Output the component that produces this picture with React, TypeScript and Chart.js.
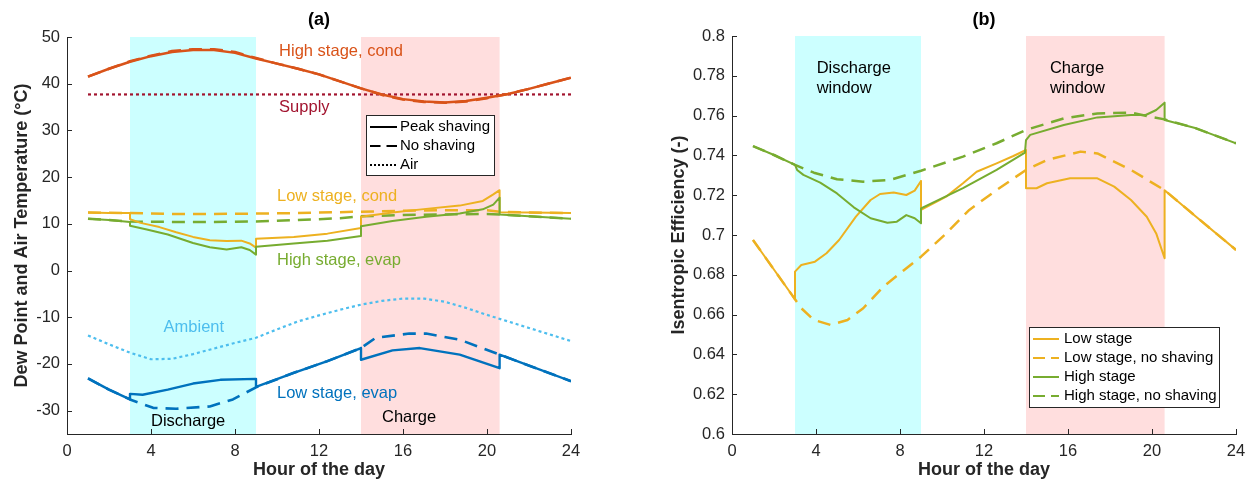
import React, { useEffect, useRef } from "react";
import { Chart, registerables } from "chart.js";

Chart.register(...registerables);

const FONT = '"Liberation Sans", Arimo, Arial, Helvetica, sans-serif';
const AXIS = "#262626";
const BLUE = "#0072BD";
const ORANGE = "#D95319";
const YELLOW = "#EDB120";
const GREEN = "#77AC30";
const LIGHTBLUE = "#4DBEEE";
const DARKRED = "#A2142F";
const CYAN_FILL = "rgb(204,255,255)";
const PINK_FILL = "rgb(255,222,222)";
const DASH = [13, 8];
const DOT = [3, 3];

// ---------- shared ----------
const xTicks = [0, 4, 8, 12, 16, 20, 24];
const dischargeWindow = [3, 9];
const chargeWindow = [14, 20.6];

// ---------- panel (a) ----------
const leftYTicks = [-30, -20, -10, 0, 10, 20, 30, 40, 50];
const hoursA = [1, 2, 3, 4, 5, 6, 7, 8, 9, 10, 11, 12, 13, 14, 15, 16, 17, 18, 19, 20, 21, 22, 23, 24];
const highCondPeak = [41.5, 43.2, 44.7, 45.9, 46.8, 47.2, 47.2, 46.6, 45.4, 44.3, 43.2, 42.0, 40.5, 39.0, 37.7, 36.7, 36.2, 36.0, 36.3, 37.0, 37.8, 38.9, 40.1, 41.3];
const highCondNoShave = [41.5, 43.2, 44.8, 46.0, 47.0, 47.4, 47.4, 46.8, 45.5, 44.3, 43.2, 42.0, 40.5, 39.0, 37.6, 36.6, 36.1, 35.9, 36.2, 36.9, 37.8, 38.9, 40.1, 41.3];
const supplyHours = [1, 24];
const supplyTemp = [37.7, 37.7];
const ambientTemp = [-13.9, -15.8, -17.6, -19.0, -18.9, -17.9, -16.7, -15.5, -14.4, -12.6, -10.9, -9.6, -8.4, -7.3, -6.5, -6.0, -6.0, -6.7, -8.0, -9.5, -10.9, -12.3, -13.7, -15.1];

const lowCondPeakHours = [1, 2, 3, 3, 3.5, 4.4, 5.2, 6.0, 6.8, 7.6, 8.3, 8.7, 9, 9, 10.8, 12.4, 14, 14, 15.5, 17.1, 18.7, 19.8, 20.3, 20.6, 20.6, 22, 24];
const lowCondPeak = [12.4, 12.3, 12.3, 11.0, 10.2, 9.3, 8.2, 7.2, 6.5, 6.3, 6.4, 5.8, 4.9, 6.8, 7.2, 7.9, 9.1, 11.5, 12.4, 13.2, 13.9, 14.9, 16.3, 17.2, 12.5, 12.4, 12.3];
const lowCondNoShaveHours = [1, 3, 5, 7, 9, 11, 13, 14, 16, 18, 20, 20.6, 22, 24];
const lowCondNoShave = [12.4, 12.3, 12.1, 12.1, 12.2, 12.3, 12.5, 12.6, 12.8, 12.9, 12.9, 12.6, 12.4, 12.3];

const highEvapPeakHours = [1, 2, 3, 3, 3.8, 4.8, 6.0, 6.8, 7.6, 8.3, 8.7, 9, 9, 10.8, 12.4, 14, 14, 15.5, 17.1, 18.7, 19.8, 20.3, 20.6, 20.6, 22, 24];
const highEvapPeak = [11.1, 10.8, 10.4, 9.6, 8.8, 7.7, 5.9, 5.0, 4.5, 5.0, 4.4, 3.4, 5.1, 5.8, 6.4, 7.4, 9.5, 10.6, 11.5, 12.2, 13.1, 14.1, 15.6, 12.0, 11.6, 11.1];
const highEvapNoShaveHours = [1, 3, 5, 7, 9, 11, 13, 14, 16, 18, 20, 20.6, 22, 24];
const highEvapNoShave = [11.1, 10.5, 10.4, 10.4, 10.5, 10.8, 11.2, 11.6, 11.9, 12.0, 12.1, 12.0, 11.6, 11.1];

const lowEvapPeakHours = [1, 2, 3, 3, 3.6, 4.8, 6.0, 7.3, 9, 9, 10.8, 12.4, 14, 14, 15.5, 16.8, 18.7, 20.6, 20.6, 24];
const lowEvapPeak = [-23.1, -25.5, -27.6, -26.4, -26.6, -25.5, -24.2, -23.4, -23.2, -24.9, -21.9, -19.4, -16.6, -19.1, -17.1, -16.6, -18.0, -20.9, -18.0, -23.7];
const lowEvapNoShaveHours = [1, 2, 3, 4.1, 5.2, 6.8, 7.9, 9, 10.8, 12.4, 14, 14.7, 16.3, 17.1, 18.7, 20.6, 24];
const lowEvapNoShave = [-23.1, -25.5, -27.6, -29.4, -29.6, -29.1, -27.6, -25.0, -21.9, -19.4, -16.6, -14.4, -13.5, -13.5, -14.8, -18.0, -23.7];

// ---------- panel (b) ----------
const rightYTicks = [0.6, 0.62, 0.64, 0.66, 0.68, 0.7, 0.72, 0.74, 0.76, 0.78, 0.8];
const lowStageHours = [1, 3, 3, 3.3, 3.95, 4.5, 5.1, 5.9, 6.6, 7.05, 7.7, 8.3, 8.7, 9, 9, 10.2, 11.0, 11.65, 12.6, 13.4, 14, 14, 14.5, 15.0, 16.1, 17.4, 18.2, 19.0, 19.75, 20.2, 20.6, 20.6, 22.1, 24];
const lowStageEff = [0.6975, 0.6677, 0.6816, 0.6849, 0.6866, 0.6908, 0.6975, 0.7092, 0.7176, 0.7206, 0.7214, 0.7201, 0.7223, 0.7271, 0.7126, 0.7193, 0.726, 0.7318, 0.736, 0.7397, 0.7427, 0.7235, 0.7235, 0.726, 0.7285, 0.7285, 0.7243, 0.7176, 0.7092, 0.7008, 0.6883, 0.7225, 0.7092, 0.6925];
const lowNoShaveHours = [1, 3, 3.3, 3.9, 4.7, 5.5, 6.25, 7.2, 8.2, 9, 10.2, 11.3, 12.6, 14, 15, 16.6, 17.4, 19.0, 20.6, 22.1, 24];
const lowNoShaveEff = [0.6975, 0.6677, 0.6632, 0.6573, 0.6548, 0.6573, 0.6632, 0.674, 0.6824, 0.6891, 0.7008, 0.7126, 0.7226, 0.7327, 0.7377, 0.7419, 0.741, 0.7327, 0.7225, 0.7092, 0.6925];
const highStageHours = [1, 2, 3, 3.1, 3.4, 4.2, 5.0, 5.8, 6.6, 7.4, 7.85, 8.3, 8.7, 9, 9, 11, 12.6, 13.95, 14, 14.2, 15.8, 17.4, 19.0, 19.7, 20.2, 20.6, 20.6, 22.1, 24];
const highStageEff = [0.7447, 0.7402, 0.7352, 0.7327, 0.7302, 0.7263, 0.7209, 0.7139, 0.7084, 0.7062, 0.7067, 0.71, 0.7084, 0.7059, 0.7134, 0.7236, 0.7327, 0.7414, 0.7477, 0.7503, 0.7553, 0.7591, 0.7603, 0.7603, 0.7628, 0.7665, 0.7578, 0.7536, 0.7461];
const highNoShaveHours = [1, 2, 3, 3.9, 5.0, 6.25, 7.5, 9, 11, 12.6, 14, 15.8, 17.4, 19, 19.9, 20.6, 22.1, 24];
const highNoShaveEff = [0.7447, 0.7402, 0.7352, 0.7313, 0.728, 0.7268, 0.7276, 0.7323, 0.7394, 0.7461, 0.7528, 0.7586, 0.7611, 0.7615, 0.7595, 0.7581, 0.7536, 0.7461];

// ---------- helpers ----------
function series(xs: number[], ys: number[], color: string, dash: number[] = [], width = 2) {
  return {
    data: xs.map((x, i) => ({ x, y: ys[i] })),
    borderColor: color,
    backgroundColor: color,
    borderWidth: width,
    borderDash: dash,
    borderCapStyle: "butt",
    borderJoinStyle: "round",
    pointRadius: 0,
    tension: 0,
    fill: false,
  } as any;
}

function stack(list: any[]) {
  // later entries drawn on top
  return list.map((d, i) => ({ ...d, order: list.length - i }));
}

type Note = { text: string[]; x: number; y: number; color: string; lineGap?: number };
type LegendRow = { label: string; color: string; dash: number[] };
type Decor = {
  title: string;
  notes: Note[];
  legend: { x: number; y: number; w: number; h: number; rowY: number[]; lineX0: number; lineX1: number; textX: number; rows: LegendRow[] };
};

function decorPlugin(cfg: Decor) {
  return {
    id: "decor",
    beforeDraw(chart: any) {
      const { ctx, chartArea: a, scales } = chart;
      const x = scales.x;
      ctx.save();
      const wins: [number[], string][] = [
        [dischargeWindow, CYAN_FILL],
        [chargeWindow, PINK_FILL],
      ];
      for (const [r, col] of wins) {
        const x0 = x.getPixelForValue(r[0]);
        const x1 = x.getPixelForValue(r[1]);
        ctx.fillStyle = col;
        ctx.fillRect(x0, a.top, x1 - x0, a.bottom - a.top);
      }
      ctx.restore();
    },
    afterDraw(chart: any) {
      const { ctx, chartArea: a, scales } = chart;
      const x = scales.x;
      const y = scales.y;
      ctx.save();
      // inward ticks
      ctx.strokeStyle = AXIS;
      ctx.lineWidth = 1;
      ctx.setLineDash([]);
      ctx.beginPath();
      for (const t of x.ticks) {
        const px = Math.round(x.getPixelForValue(t.value)) + 0.5;
        ctx.moveTo(px, a.bottom);
        ctx.lineTo(px, a.bottom - 5);
      }
      for (const t of y.ticks) {
        const py = Math.round(y.getPixelForValue(t.value)) + 0.5;
        ctx.moveTo(a.left, py);
        ctx.lineTo(a.left + 5, py);
      }
      ctx.stroke();

      // annotations
      ctx.font = `16.5px ${FONT}`;
      ctx.textAlign = "left";
      ctx.textBaseline = "middle";
      for (const n of cfg.notes) {
        ctx.fillStyle = n.color;
        const px = x.getPixelForValue(n.x);
        const py = y.getPixelForValue(n.y);
        n.text.forEach((line, i) => ctx.fillText(line, px, py + i * (n.lineGap || 20)));
      }

      // legend
      const L = cfg.legend;
      ctx.fillStyle = "#ffffff";
      ctx.fillRect(L.x, L.y, L.w, L.h);
      ctx.strokeStyle = AXIS;
      ctx.lineWidth = 1;
      ctx.strokeRect(L.x + 0.5, L.y + 0.5, L.w, L.h);
      ctx.font = `15px ${FONT}`;
      L.rows.forEach((r, i) => {
        const ry = L.rowY[i];
        ctx.beginPath();
        ctx.setLineDash(r.dash);
        ctx.strokeStyle = r.color;
        ctx.lineWidth = 2;
        ctx.moveTo(L.lineX0, ry);
        ctx.lineTo(L.lineX1, ry);
        ctx.stroke();
        ctx.setLineDash([]);
        ctx.fillStyle = "#000000";
        ctx.fillText(r.label, L.textX, ry);
      });

      // title
      ctx.font = `bold 18px ${FONT}`;
      ctx.textAlign = "center";
      ctx.fillStyle = "#000000";
      ctx.fillText(cfg.title, (a.left + a.right) / 2, 20);
      ctx.restore();
    },
  };
}

function makeOptions(p: {
  padRight: number;
  padTop: number;
  yWidth: number;
  yMin: number;
  yMax: number;
  yTicks: number[];
  yTitle: string;
  yTitlePad: number;
  yFmt: (v: number) => string;
}) {
  return {
    animation: false,
    responsive: false,
    devicePixelRatio: 1,
    events: [],
    layout: { padding: { left: 0, right: p.padRight, top: p.padTop, bottom: 0 } },
    plugins: { legend: { display: false }, tooltip: { enabled: false }, title: { display: false } },
    scales: {
      x: {
        type: "linear",
        min: 0,
        max: 24,
        afterBuildTicks: (s: any) => {
          s.ticks = xTicks.map((v) => ({ value: v }));
        },
        afterFit: (s: any) => {
          s.height = 52;
        },
        grid: { display: false, drawTicks: false },
        border: { display: true, color: AXIS, width: 1 },
        ticks: {
          color: AXIS,
          font: { family: FONT, size: 16.5 },
          padding: 8,
          maxRotation: 0,
          autoSkip: false,
          callback: (v: any) => String(v),
        },
        title: {
          display: true,
          text: "Hour of the day",
          color: AXIS,
          font: { family: FONT, size: 18, weight: "bold" },
          padding: { top: 0, bottom: 5 },
        },
      },
      y: {
        type: "linear",
        min: p.yMin,
        max: p.yMax,
        afterBuildTicks: (s: any) => {
          s.ticks = p.yTicks.map((v) => ({ value: v }));
        },
        afterFit: (s: any) => {
          s.width = p.yWidth;
        },
        grid: { display: false, drawTicks: false },
        border: { display: true, color: AXIS, width: 1 },
        ticks: {
          color: AXIS,
          font: { family: FONT, size: 16.5 },
          padding: 7,
          autoSkip: false,
          callback: (v: any) => p.yFmt(Number(v)),
        },
        title: {
          display: true,
          text: p.yTitle,
          color: AXIS,
          font: { family: FONT, size: 18, weight: "bold" },
          padding: { top: p.yTitlePad, bottom: 0 },
        },
      },
    },
  } as any;
}

function leftConfig(): any {
  const datasets = stack([
    series(supplyHours, supplyTemp, DARKRED, DOT, 2.2),
    series(hoursA, ambientTemp, LIGHTBLUE, DOT, 2.2),
    series(hoursA, highCondPeak, ORANGE, [], 2.5),
    series(hoursA, highCondNoShave, ORANGE, DASH, 2.5),
    series(lowCondNoShaveHours, lowCondNoShave, YELLOW, DASH, 2.5),
    series(highEvapNoShaveHours, highEvapNoShave, GREEN, DASH, 2.5),
    series(lowCondPeakHours, lowCondPeak, YELLOW, [], 2),
    series(highEvapPeakHours, highEvapPeak, GREEN, [], 2),
    series(lowEvapNoShaveHours, lowEvapNoShave, BLUE, DASH, 2.6),
    series(lowEvapPeakHours, lowEvapPeak, BLUE, [], 2.4),
  ]);
  const decor: Decor = {
    title: "(a)",
    notes: [
      { text: ["High stage, cond"], x: 10.1, y: 47.0, color: ORANGE },
      { text: ["Supply"], x: 10.1, y: 34.9, color: DARKRED },
      { text: ["Low stage, cond"], x: 10.0, y: 15.9, color: YELLOW },
      { text: ["High stage, evap"], x: 10.0, y: 2.1, color: GREEN },
      { text: ["Ambient"], x: 4.6, y: -12.1, color: LIGHTBLUE },
      { text: ["Low stage, evap"], x: 10.0, y: -26.4, color: BLUE },
      { text: ["Discharge"], x: 4.0, y: -32.3, color: "#000000" },
      { text: ["Charge"], x: 15.0, y: -31.4, color: "#000000" },
    ],
    legend: {
      x: 366,
      y: 115,
      w: 128,
      h: 60,
      rowY: [127, 146, 165],
      lineX0: 370,
      lineX1: 397,
      textX: 400,
      rows: [
        { label: "Peak shaving", color: "#000000", dash: [] },
        { label: "No shaving", color: "#000000", dash: [10.5, 6] },
        { label: "Air", color: "#000000", dash: [2, 2] },
      ],
    },
  };
  return {
    type: "line",
    data: { datasets },
    options: makeOptions({
      padRight: 640 - 571,
      padTop: 37,
      yWidth: 67,
      yMin: -35,
      yMax: 50,
      yTicks: leftYTicks,
      yTitle: "Dew Point and Air Temperature (°C)",
      yTitlePad: 11,
      yFmt: (v) => String(v),
    }),
    plugins: [decorPlugin(decor)],
  };
}

function rightConfig(): any {
  const datasets = stack([
    series(lowNoShaveHours, lowNoShaveEff, YELLOW, DASH, 2.5),
    series(highNoShaveHours, highNoShaveEff, GREEN, DASH, 2.5),
    series(lowStageHours, lowStageEff, YELLOW, [], 2),
    series(highStageHours, highStageEff, GREEN, [], 2),
  ]);
  const off = 640;
  const decor: Decor = {
    title: "(b)",
    notes: [
      { text: ["Discharge", "window"], x: 4.03, y: 0.7839, color: "#000000" },
      { text: ["Charge", "window"], x: 15.14, y: 0.7839, color: "#000000" },
    ],
    legend: {
      x: 1029 - off,
      y: 327,
      w: 190,
      h: 80,
      rowY: [339, 358, 377, 396],
      lineX0: 1033 - off,
      lineX1: 1059 - off,
      textX: 1064 - off,
      rows: [
        { label: "Low stage", color: YELLOW, dash: [] },
        { label: "Low stage, no shaving", color: YELLOW, dash: [12, 6] },
        { label: "High stage", color: GREEN, dash: [] },
        { label: "High stage, no shaving", color: GREEN, dash: [12, 6] },
      ],
    },
  };
  return {
    type: "line",
    data: { datasets },
    options: makeOptions({
      padRight: 615 - 596,
      padTop: 36,
      yWidth: 92,
      yMin: 0.6,
      yMax: 0.8,
      yTicks: rightYTicks,
      yTitle: "Isentropic Efficiency (-)",
      yTitlePad: 28,
      yFmt: (v) => String(Number(v.toFixed(2))),
    }),
    plugins: [decorPlugin(decor)],
  };
}

export default function App() {
  const leftRef = useRef<HTMLCanvasElement | null>(null);
  const rightRef = useRef<HTMLCanvasElement | null>(null);

  useEffect(() => {
    const c1 = new Chart(leftRef.current as HTMLCanvasElement, leftConfig());
    const c2 = new Chart(rightRef.current as HTMLCanvasElement, rightConfig());
    return () => {
      c1.destroy();
      c2.destroy();
    };
  }, []);

  return (
    <div style={{ position: "fixed", left: 0, top: 0, width: 1255, height: 486, background: "#ffffff", overflow: "hidden" }}>
      <canvas ref={leftRef} width={640} height={486} style={{ position: "absolute", left: 0, top: 0, width: 640, height: 486 }} />
      <canvas ref={rightRef} width={615} height={486} style={{ position: "absolute", left: 640, top: 0, width: 615, height: 486 }} />
    </div>
  );
}
